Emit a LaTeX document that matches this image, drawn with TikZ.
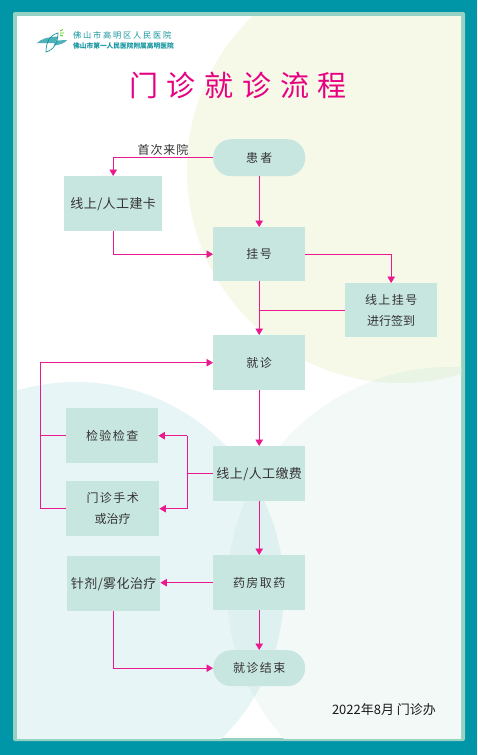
\documentclass[tikz,border=0pt]{standalone}
\usepackage{fontspec}
\setmainfont{Noto Sans CJK SC}
\usetikzlibrary{arrows.meta,calc}
\definecolor{teal1}{RGB}{0,150,168}
\definecolor{frame1}{RGB}{150,210,195}
\definecolor{boxc}{RGB}{200,230,224}
\definecolor{mag}{RGB}{232,0,130}
\definecolor{logoT}{RGB}{20,150,160}
\definecolor{ylw}{RGB}{246,249,232}
\definecolor{pblue}{RGB}{232,245,246}
\definecolor{pgrn}{RGB}{243,249,247}
\definecolor{lens}{RGB}{222,240,240}
\definecolor{ovl}{RGB}{234,244,228}
\tikzset{
 x=1pt,y=-1pt,
 boxn/.style={fill=boxc,draw=none,inner sep=0pt,align=center,font=\fontsize{12}{21}\selectfont,text=black!80},
 rnd/.style={boxn,rounded corners=18pt},
 conn/.style={draw=mag!90,line width=0.9pt,-{Triangle[width=7.5pt,length=6.5pt]}},
 lin/.style={draw=mag!90,line width=0.9pt},
 big/.style={font=\fontsize{13}{21}\selectfont},
}
\newcommand{\bx}[7][boxn]{\node[#1,minimum width=#4pt,minimum height=#5pt,anchor=north west] (#2) at (#3) {\addfontfeatures{LetterSpace=#6}#7};}
\begin{document}
\begin{tikzpicture}
\useasboundingbox (0,0) rectangle (477,755);
\fill[teal1] (0,0) rectangle (477,755);
\fill[frame1,rounded corners=2pt] (13,12) rectangle (465,741);
\fill[white] (17,16) rectangle (461,738);
\begin{scope}
 \clip (17,16) rectangle (461,738);
 \fill[ylw] (400,170) circle[radius=213];
 \fill[pgrn] (450,590) circle[radius=223];
 \begin{scope}
  \clip (400,170) circle[radius=213];
  \fill[ovl] (450,590) circle[radius=223];
 \end{scope}
 \fill[pblue] (76,590) circle[radius=208];
 \begin{scope}
  \clip (76,590) circle[radius=208];
  \fill[lens] (450,590) circle[radius=223];
 \end{scope}
\end{scope}
% logo
\fill[logoT!75!white] (37,43) .. controls (41,39) and (47,37) .. (58,36.5) -- (55,43) -- cycle;
\fill[logoT!75!white] (53.5,45.5) -- (56,40.5) -- (67,40) .. controls (65,43) and (60,45) .. (53.5,45.5) -- cycle;
\draw[logoT,line width=.7pt] (46,52) .. controls (46,42) and (50,35) .. (58,33) .. controls (58,42) and (54,50) .. (46,52) -- cycle;
\draw[green!60!yellow!80!black,line width=.8pt] (60,31) -- (63,29.5) (60,33) -- (64,33) (60,35) -- (63,36);
\node[anchor=west,inner sep=0pt,text=logoT,font=\fontsize{8.2}{10}\selectfont] (l1) at (73,35) {\addfontfeatures{LetterSpace=22}佛山市高明区人民医院};
\node[anchor=west,inner sep=0pt,text=logoT,font=\bfseries\fontsize{6.7}{8}\selectfont] (l2) at (73,46) {佛山市第一人民医院附属高明医院};
\node[inner sep=0pt,text=mag,font=\fontsize{29}{32}\selectfont] (title) at (238,85) {\addfontfeatures{LetterSpace=30}门诊就诊流程};
% boxes
\bx[rnd]{a}{213,139}{92}{37}{20}{患者}
\bx[boxn,big]{b}{64,176}{98}{55}{3}{线上/人工建卡}
\bx{c}{213,227}{92}{54}{12}{挂号}
\bx{d}{345,283}{92}{54}{12}{线上挂号\\进行签到}
\bx{e}{213,335}{92}{55}{12}{就诊}
\bx{f}{66,408}{92}{55}{12}{检验检查}
\bx{g}{66,481}{93}{55}{12}{门诊手术\\或治疗}
\bx[boxn,big]{h}{213,446}{92}{55}{3}{线上/人工缴费}
\bx{i}{213,555}{92}{55}{12}{药房取药}
\bx[boxn,big]{j}{67,556}{93}{55}{3}{针剂/雾化治疗}
\bx[rnd]{k}{213,650}{92}{36}{12}{就诊结束}
% connectors
\draw[conn] (a.west) -| (b.north);
\node[inner sep=0pt,font=\fontsize{12}{14}\selectfont,text=black!80] (s) at (163,150) {\addfontfeatures{LetterSpace=8}首次来院};
\draw[conn] (a) -- (c);
\draw[conn] (b.south) |- (c.west);
\draw[conn] (c.east) -| (d.north);
\draw[conn] (c) -- (e);
\coordinate (m) at (c.south |- d.west);
\draw[lin] (d.west) -- (m);
\coordinate (v1) at ($(f.west)+(-26,0)$);
\draw[conn] (g.west) -- (v1 |- g.west) -- (v1 |- e.west) -- (e.west);
\draw[lin] (f.west) -- (v1);
\draw[conn] (e) -- (h);
\coordinate (v2) at ($(h.west)+(-26,0)$);
\draw[lin] (h.west) -- (v2);
\draw[conn] (v2 |- f.east) -- (f.east);
\draw[conn] (v2 |- f.east) -- (v2 |- g.east) -- (g.east);
\draw[conn] (h) -- (i);
\draw[conn] (i.west) -- (j.east |- i.west);
\draw[conn] (i) -- (k);
\draw[conn] (j.south) |- (k.west);
\node[inner sep=0pt,font=\fontsize{13}{15}\selectfont,text=black!90] (n) at (384,710) {2022年8月 门诊办};
\end{tikzpicture}
\end{document}
